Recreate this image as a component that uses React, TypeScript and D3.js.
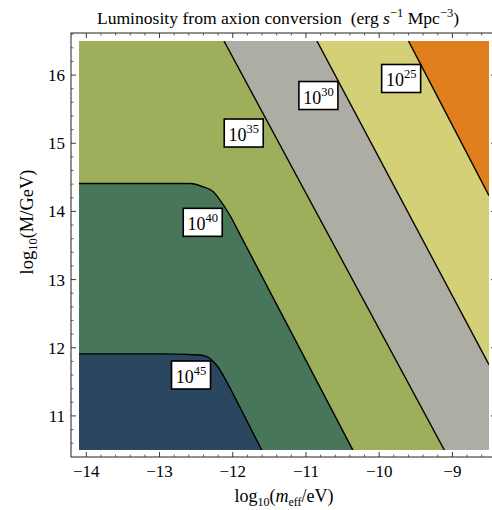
import React from 'react';
import * as d3 from 'd3';

// ---- data ----
const X_DOMAIN: [number, number] = [-14.1, -8.5];
const Y_DOMAIN: [number, number] = [10.5, 16.5];
const X_TICKS = [-14, -13, -12, -11, -10, -9];
const Y_TICKS = [11, 12, 13, 14, 15, 16];
const LEVELS = [25, 30, 35, 40, 45];

// contour lines: [log10(m_eff/eV), log10(M/GeV)]
const contour25 = [[-9.6, 16.5], [-8.5, 14.23]];
const contour30 = [[-10.85, 16.5], [-8.5, 11.75]];
const contour35 = [[-12.12, 16.5], [-9.11, 10.5]];
const contour40 = [
  [-14.1, 14.41], [-13.0, 14.41], [-12.584, 14.41], [-12.402, 14.36], [-12.265, 14.287],
  [-12.174, 14.165], [-12.037, 13.94], [-11.9, 13.66], [-11.764, 13.38], [-11.1, 12.02], [-10.36, 10.5],
];
const contour45 = [
  [-14.1, 11.91], [-13.0, 11.91], [-12.447, 11.893], [-12.287, 11.82], [-12.197, 11.71],
  [-12.082, 11.50], [-11.946, 11.22], [-11.809, 10.93], [-11.672, 10.643], [-11.604, 10.5],
];
const CONTOURS = [contour25, contour30, contour35, contour40, contour45];

const LABEL_X = [-9.70, -10.83, -11.85, -12.41, -12.57];
const LABEL_Y = [15.95, 15.70, 15.15, 13.84, 11.60];

// ---- styles ----
const BASE_COLOR = '#E17E1E';
const LEVEL_COLORS = ['#D4D077', '#ADADA3', '#9EAF5B', '#47765A', '#2B4760'];
const FONT = '"Liberation Serif", "Times New Roman", Times, serif';

const W = 492;
const H = 510;
const PLOT = { left: 79, right: 489, top: 41, bottom: 450 };
const FRAME = { left: 71, right: 496, top: 33, bottom: 457 };

export default function App() {
  const x = d3.scaleLinear().domain(X_DOMAIN).range([PLOT.left, PLOT.right]);
  const y = d3.scaleLinear().domain(Y_DOMAIN).range([PLOT.bottom, PLOT.top]);

  const lineGen = d3
    .line<number[]>()
    .x((d) => x(d[0]))
    .y((d) => y(d[1]))
    .curve(d3.curveMonotoneX);

  const x0 = X_DOMAIN[0], x1 = X_DOMAIN[1], y0 = Y_DOMAIN[0], y1 = Y_DOMAIN[1];
  const regionPath = (pts: number[][]) =>
    lineGen(pts) +
    `L${x(x1 + 1)},${y(y0 - 1)}L${x(x0 - 1)},${y(y0 - 1)}L${x(x0 - 1)},${y(y1 + 1)}Z`;

  // frame extent in data units for tick placement
  const fxl = x.invert(FRAME.left), fxr = x.invert(FRAME.right);
  const fyb = y.invert(FRAME.bottom), fyt = y.invert(FRAME.top);
  const minorX = d3.range(Math.ceil(fxl * 5), Math.floor(fxr * 5) + 1).map((k) => k / 5)
    .filter((v) => x(v) > FRAME.left + 1 && x(v) < FRAME.right - 1);
  const minorY = d3.range(Math.ceil(fyb * 5), Math.floor(fyt * 5) + 1).map((k) => k / 5)
    .filter((v) => y(v) < FRAME.bottom - 1 && y(v) > FRAME.top + 1);
  const isMajor = (v: number) => Math.abs(v - Math.round(v)) < 1e-6;
  const MAJ = 5, MIN = 2.5;

  const boxW = 39, boxH = 28;

  return (
    <svg
      width={W}
      height={H}
      viewBox={`0 0 ${W} ${H}`}
      style={{ position: 'absolute', left: 0, top: 0, background: '#fff', overflow: 'hidden' }}
      fontFamily={FONT}
    >
      <defs>
        <clipPath id="plotClip">
          <rect x={PLOT.left} y={PLOT.top} width={PLOT.right - PLOT.left} height={PLOT.bottom - PLOT.top} />
        </clipPath>
      </defs>

      {/* title */}
      <text x={278} y={24} textAnchor="middle" fontSize={17.6} fill="#000">
        Luminosity from axion conversion
        <tspan dx={9}>(erg </tspan>
        <tspan fontStyle="italic">s</tspan>
        <tspan fontSize={12.5} dy={-7}>−1</tspan>
        <tspan dy={7}> Mpc</tspan>
        <tspan fontSize={12.5} dy={-7}>−3</tspan>
        <tspan dy={7}>)</tspan>
      </text>

      {/* filled regions */}
      <g clipPath="url(#plotClip)">
        <rect x={PLOT.left} y={PLOT.top} width={PLOT.right - PLOT.left} height={PLOT.bottom - PLOT.top} fill={BASE_COLOR} />
        {CONTOURS.map((pts, i) => (
          <path key={'r' + i} d={regionPath(pts)} fill={LEVEL_COLORS[i]} stroke="none" />
        ))}
        {CONTOURS.map((pts, i) => (
          <path key={'l' + i} d={lineGen(pts) || ''} fill="none" stroke="#000" strokeWidth={1.4} />
        ))}
      </g>

      {/* contour labels */}
      {LEVELS.map((lv, i) => {
        const cx = x(LABEL_X[i]);
        const cy = y(LABEL_Y[i]);
        return (
          <g key={'lab' + lv}>
            <rect x={cx - boxW / 2} y={cy - boxH / 2} width={boxW} height={boxH} fill="#fff" stroke="#000" strokeWidth={1.6} />
            <text x={cx} y={cy + 8} textAnchor="middle" fontSize={18} fill="#000">
              10<tspan fontSize={12.5} dy={-8}>{lv}</tspan>
            </text>
          </g>
        );
      })}

      {/* frame */}
      <rect
        x={FRAME.left}
        y={FRAME.top}
        width={FRAME.right - FRAME.left}
        height={FRAME.bottom - FRAME.top}
        fill="none"
        stroke="#222"
        strokeWidth={1}
      />
      {/* ticks */}
      {minorX.map((v) => {
        const len = isMajor(v) ? MAJ : MIN;
        const px = x(v);
        return (
          <g key={'tx' + v} stroke="#222" strokeWidth={isMajor(v) ? 0.9 : 0.7}>
            <line x1={px} x2={px} y1={FRAME.bottom} y2={FRAME.bottom - len} />
            <line x1={px} x2={px} y1={FRAME.top} y2={FRAME.top + len} />
          </g>
        );
      })}
      {minorY.map((v) => {
        const len = isMajor(v) ? MAJ : MIN;
        const py = y(v);
        return (
          <g key={'ty' + v} stroke="#222" strokeWidth={isMajor(v) ? 0.9 : 0.7}>
            <line x1={FRAME.left} x2={FRAME.left + len} y1={py} y2={py} />
            <line x1={FRAME.right} x2={FRAME.right - len} y1={py} y2={py} />
          </g>
        );
      })}

      {/* tick labels */}
      {X_TICKS.map((v) => (
        <text key={'xl' + v} x={x(v)} y={477} textAnchor="middle" fontSize={17} fill="#000">
          {v < 0 ? '−' + Math.abs(v) : String(v)}
        </text>
      ))}
      {Y_TICKS.map((v) => (
        <text key={'yl' + v} x={65} y={y(v) + 6} textAnchor="end" fontSize={17} fill="#000">
          {v}
        </text>
      ))}

      {/* axis labels */}
      <text x={284} y={502} textAnchor="middle" fontSize={18} fill="#000">
        log<tspan fontSize={12} dy={4}>10</tspan>
        <tspan dy={-4}>(</tspan>
        <tspan fontStyle="italic">m</tspan>
        <tspan fontSize={12} dy={4}>eff</tspan>
        <tspan dy={-4}>/eV)</tspan>
      </text>
      <text transform={`translate(33,222) rotate(-90)`} textAnchor="middle" fontSize={18.5} fill="#000">
        log<tspan fontSize={12.5} dy={4}>10</tspan>
        <tspan dy={-4}>(M/GeV)</tspan>
      </text>
    </svg>
  );
}
